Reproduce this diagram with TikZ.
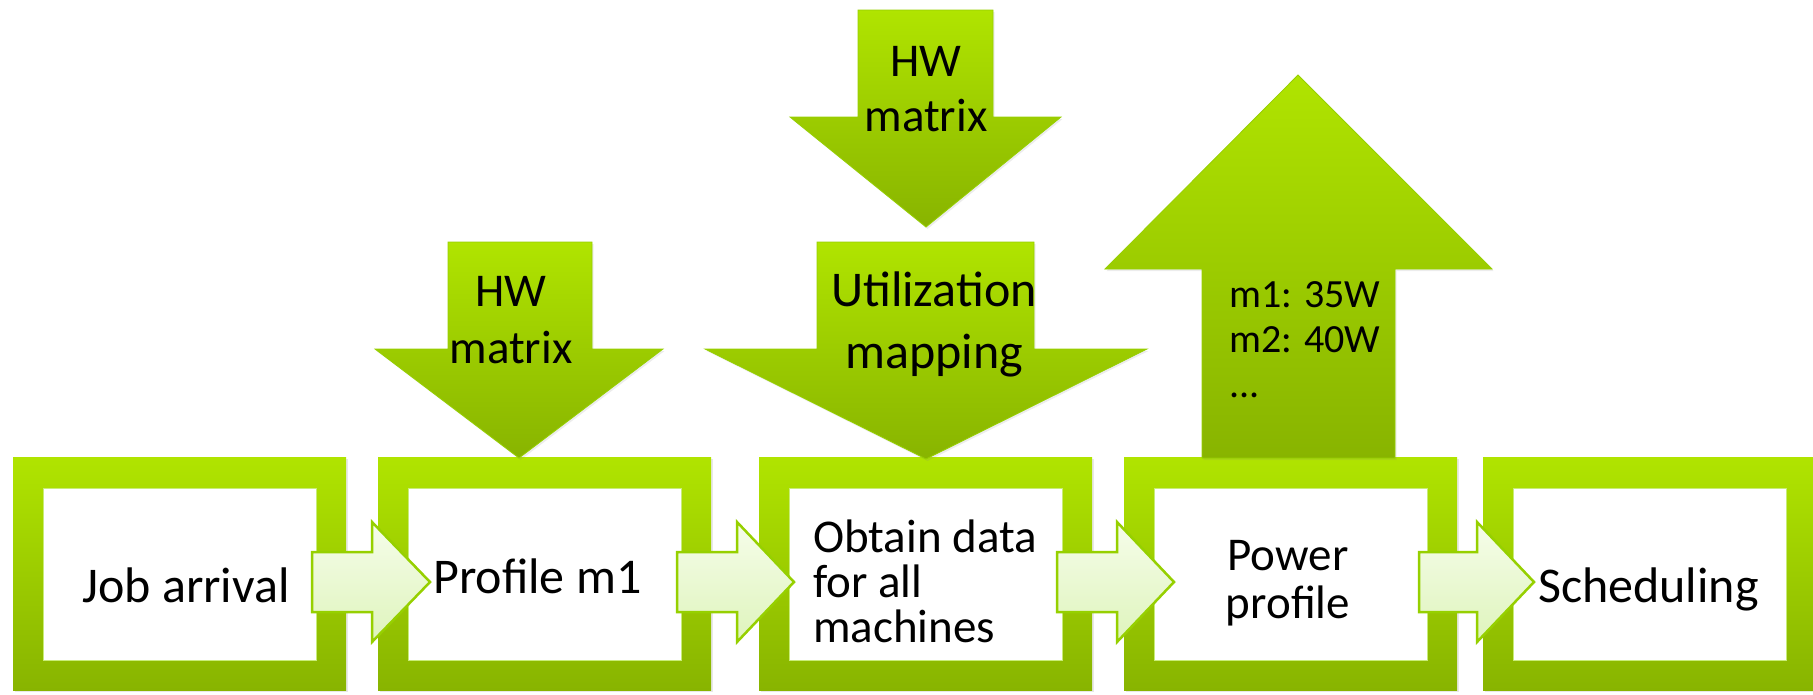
\documentclass[tikz,border=0pt]{standalone}
\usepackage{fontspec}
\setmainfont{Carlito}
\usetikzlibrary{shadows}
\definecolor{gtop}{RGB}{176,228,0}
\definecolor{gbot}{RGB}{136,180,0}
\definecolor{ltop}{RGB}{246,253,234}
\definecolor{lbot}{RGB}{222,244,188}
\definecolor{gline}{RGB}{150,208,0}
\definecolor{iline}{RGB}{200,236,120}
\tikzset{
  frame/.style={draw=none, top color=gtop, bottom color=gbot, minimum width=333, minimum height=233, anchor=north west, inner sep=0,
    drop shadow={opacity=0.18, shadow xshift=1.5pt, shadow yshift=-2pt}},
  innerbox/.style={fill=white, draw=iline, line width=0.8, minimum width=273, minimum height=172, anchor=north west, inner sep=0},
  bigarrow/.style={top color=gtop, bottom color=gbot, draw=gline, line width=0.8,
    drop shadow={opacity=0.15, shadow xshift=1.5pt, shadow yshift=-2pt}},
  smallarrow/.style={top color=ltop, bottom color=lbot, draw=gline, line width=2.5, line join=miter},
  lbl/.style={inner sep=0, text=black, font=\fontsize{50}{60}\selectfont},
  lblm/.style={inner sep=0, text=black, font=\fontsize{47}{45}\selectfont},
}
\begin{document}
\begin{tikzpicture}[x=1pt,y=-1pt]
\useasboundingbox (0,0) rectangle (1813,694);
% frames
\node[frame] (f1) at (13,457) {};
\node[frame] (f2) at (378,457) {};
\node[frame] (f3) at (759,457) {};
\node[frame] (f4) at (1124,457) {};
\node[frame] (f5) at (1483,457) {};
% inner white boxes
\node[innerbox] (b1) at (43,488) {};
\node[innerbox] (b2) at (408,488) {};
\node[innerbox] (b3) at (789,488) {};
\node[innerbox] (b4) at (1154,488) {};
\node[innerbox] (b5) at (1513,488) {};
% big arrows
\path[bigarrow] (448,242) -- (592,242) -- (592,349) -- (663,349) -- (519,458) -- (375,349) -- (448,349) -- cycle;
\path[bigarrow] (858,10) -- (993,10) -- (993,117) -- (1061,117) -- (926,227) -- (790,117) -- (858,117) -- cycle;
\path[bigarrow] (817,242) -- (1034,242) -- (1034,349) -- (1147,349) -- (926,459) -- (705,349) -- (817,349) -- cycle;
\path[bigarrow] (1202,458) -- (1202,269) -- (1105,269) -- (1298,75) -- (1492,269) -- (1395,269) -- (1395,458) -- cycle;
% small arrows
\path[smallarrow] (312,552) -- (372,552) -- (372,522) -- (430,582) -- (372,642) -- (372,612) -- (312,612) -- cycle;
\path[smallarrow] (677,552) -- (737,552) -- (737,522) -- (794,582) -- (737,642) -- (737,612) -- (677,612) -- cycle;
\path[smallarrow] (1057,552) -- (1117,552) -- (1117,522) -- (1174,582) -- (1117,642) -- (1117,612) -- (1057,612) -- cycle;
\path[smallarrow] (1419,552) -- (1477,552) -- (1477,522) -- (1534,582) -- (1477,642) -- (1477,612) -- (1419,612) -- cycle;
% box labels (multi-line nodes: base = last line baseline)
\node[lbl, anchor=base] (t1) at (186,602) {Job arrival};
\node[lbl, anchor=base west] (t2) at (433,593) {Profile m1};
\node[lblm, anchor=base west, align=left] (t3) at (813,642) {Obtain data\\for all\\machines};
\node[lblm, anchor=base, align=center, font=\fontsize{47}{48}\selectfont] (t4) at (1288,618) {Power\\profile};
\node[lbl, anchor=base west] (t5) at (1538,602) {Scheduling};
% arrow labels
\node[lblm, anchor=base, align=center, font=\fontsize{47}{57}\selectfont] (h1) at (511,363) {HW\\matrix};
\node[lblm, anchor=base, align=center, font=\fontsize{47}{55}\selectfont] (h2) at (926,131) {HW\\matrix};
\node[lbl, anchor=base, align=center, font=\fontsize{50}{62}\selectfont] (u1) at (934,368) {Utilization\\mapping};
\node[lbl, anchor=base west, align=left, font=\fontsize{40}{45}\selectfont] (p1) at (1229,397) {m1: 35W\\m2: 40W\\...};
\end{tikzpicture}
\end{document}
